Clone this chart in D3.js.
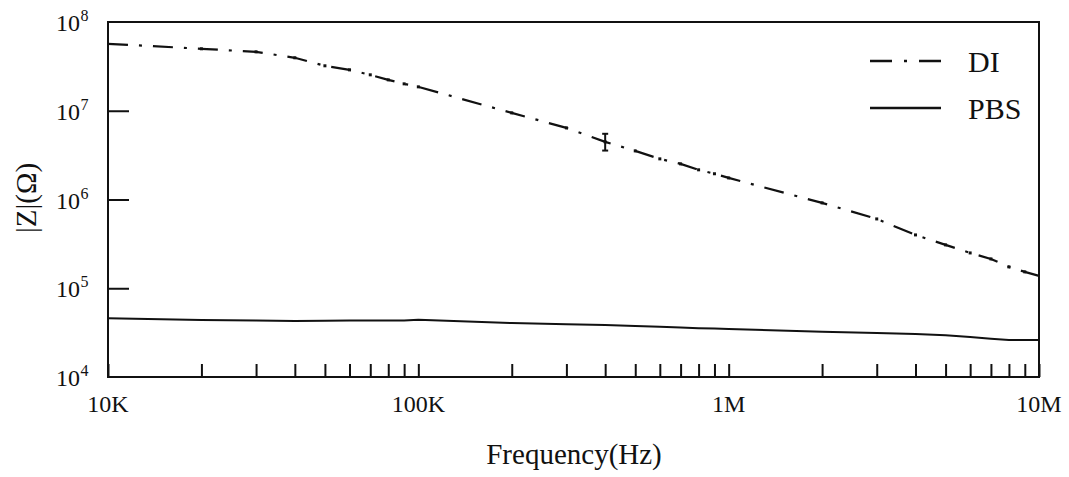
<!DOCTYPE html>
<html>
<head>
<meta charset="utf-8">
<script src="https://cdn.jsdelivr.net/npm/d3@7"></script>
<style>
  html, body { margin: 0; padding: 0; background: #fff; }
  svg text { font-family: "Liberation Serif", "Times New Roman", serif; fill: #111; }
</style>
</head>
<body>
<svg id="chart" width="1069" height="477"></svg>
<script>
// frequencies (Hz): 1..9 x each decade, 10K to 10M
const freqs = [
  1e4, 2e4, 3e4, 4e4, 5e4, 6e4, 7e4, 8e4, 9e4,
  1e5, 2e5, 3e5, 4e5, 5e5, 6e5, 7e5, 8e5, 9e5,
  1e6, 2e6, 3e6, 4e6, 5e6, 6e6, 7e6, 8e6, 9e6,
  1e7
];

// |Z| in ohm
const diValues = [
  5.68e7, 4.99e7, 4.61e7, 3.95e7, 3.21e7, 2.89e7, 2.54e7, 2.23e7, 2.01e7,
  1.86e7, 9.46e6, 6.41e6, 4.46e6, 3.53e6, 2.87e6, 2.52e6, 2.16e6, 1.95e6,
  1.75e6, 9.16e5, 6.04e5, 3.99e5, 3.08e5, 2.50e5, 2.14e5, 1.74e5, 1.53e5,
  1.38e5
];
const pbsValues = [
  4.59e4, 4.40e4, 4.32e4, 4.28e4, 4.30e4, 4.34e4, 4.32e4, 4.32e4, 4.32e4,
  4.43e4, 4.05e4, 3.93e4, 3.85e4, 3.76e4, 3.69e4, 3.61e4, 3.55e4, 3.51e4,
  3.47e4, 3.24e4, 3.14e4, 3.05e4, 2.95e4, 2.82e4, 2.70e4, 2.62e4, 2.61e4,
  2.61e4
];

// the one visible error bar on DI
const diErrors = [{ f: 4e5, low: 3.56e6, high: 5.5e6 }];

const xTickLabels = [{ v: 1e4, t: "10K" }, { v: 1e5, t: "100K" }, { v: 1e6, t: "1M" }, { v: 1e7, t: "10M" }];
const yTickExps = [4, 5, 6, 7, 8];

const svg = d3.select("#chart");
const plotLeft = 108, plotRight = 1039, plotTop = 22, plotBottom = 377;

const x = d3.scaleLog().domain([1e4, 1e7]).range([plotLeft, plotRight]);
const y = d3.scaleLog().domain([1e4, 1e8]).range([plotBottom, plotTop]);

// x axis: every 1..9 tick, inward
const xTicks = [];
for (let e = 4; e <= 6; e++) for (let m = 1; m <= 9; m++) xTicks.push(m * Math.pow(10, e));
xTicks.push(1e7);

svg.append("g")
  .attr("transform", `translate(0,${plotBottom})`)
  .call(d3.axisBottom(x).tickValues(xTicks).tickSizeInner(-13).tickSizeOuter(0).tickFormat(""))
  .call(g => g.select(".domain").remove())
  .call(g => g.selectAll(".tick line").attr("stroke", "#111").attr("stroke-width", 2));

svg.append("g")
  .attr("transform", `translate(${plotLeft},0)`)
  .call(d3.axisLeft(y).tickValues([1e5, 1e6, 1e7]).tickSizeInner(-21).tickSizeOuter(0).tickFormat(""))
  .call(g => g.select(".domain").remove())
  .call(g => g.selectAll(".tick line").attr("stroke", "#111").attr("stroke-width", 2));

// frame
svg.append("rect")
  .attr("x", plotLeft).attr("y", plotTop)
  .attr("width", plotRight - plotLeft).attr("height", plotBottom - plotTop)
  .attr("fill", "none").attr("stroke", "#111").attr("stroke-width", 2);

// x tick labels
svg.selectAll(".xlab").data(xTickLabels).join("text")
  .attr("class", "xlab")
  .attr("x", d => x(d.v))
  .attr("y", 412)
  .attr("text-anchor", "middle")
  .attr("font-size", 24)
  .text(d => d.t);

// y tick labels 10^n
const ylab = svg.selectAll(".ylab").data(yTickExps).join("g").attr("class", "ylab")
  .attr("transform", d => `translate(0,${y(Math.pow(10, d))})`);
ylab.append("text")
  .attr("x", 80).attr("y", 9)
  .attr("text-anchor", "end")
  .attr("font-size", 24)
  .text("10");
ylab.append("text")
  .attr("x", 80.5).attr("y", -1)
  .attr("font-size", 16)
  .text(d => d);

// axis titles
svg.append("text")
  .attr("transform", "translate(36,198) rotate(-90)")
  .attr("text-anchor", "middle")
  .attr("font-size", 29)
  .text("|Z|(Ω)");

svg.append("text")
  .attr("x", 574).attr("y", 464)
  .attr("text-anchor", "middle")
  .attr("font-size", 29)
  .text("Frequency(Hz)");

// curves
const line = d3.line().x(d => x(d[0])).y(d => y(d[1]));
const diData = freqs.map((f, i) => [f, diValues[i]]);
const pbsData = freqs.map((f, i) => [f, pbsValues[i]]);

svg.append("path")
  .datum(pbsData)
  .attr("d", line)
  .attr("fill", "none").attr("stroke", "#111").attr("stroke-width", 2);

svg.append("path")
  .datum(diData)
  .attr("d", line)
  .attr("fill", "none").attr("stroke", "#111").attr("stroke-width", 2.2)
  .attr("stroke-dasharray", "20,11,3,11");

// small point markers on DI
svg.selectAll(".dimark").data(diData.slice(1, -1)).join("rect")
  .attr("class", "dimark")
  .attr("x", d => x(d[0]) - 1.5).attr("y", d => y(d[1]) - 1.5)
  .attr("width", 3).attr("height", 3)
  .attr("fill", "#111");

// error bars
const eb = svg.selectAll(".err").data(diErrors).join("g").attr("class", "err")
  .attr("stroke", "#111").attr("stroke-width", 2);
eb.append("line")
  .attr("x1", d => x(d.f)).attr("x2", d => x(d.f))
  .attr("y1", d => y(d.high)).attr("y2", d => y(d.low));
eb.append("line")
  .attr("x1", d => x(d.f) - 3).attr("x2", d => x(d.f) + 3)
  .attr("y1", d => y(d.high)).attr("y2", d => y(d.high));
eb.append("line")
  .attr("x1", d => x(d.f) - 3).attr("x2", d => x(d.f) + 3)
  .attr("y1", d => y(d.low)).attr("y2", d => y(d.low));

// legend
const legendItems = [
  { name: "DI", dash: "22,12,3,12", y: 61 },
  { name: "PBS", dash: null, y: 108 }
];
const lg = svg.selectAll(".legend").data(legendItems).join("g").attr("class", "legend");
lg.append("line")
  .attr("x1", 870).attr("x2", 941)
  .attr("y1", d => d.y).attr("y2", d => d.y)
  .attr("stroke", "#111").attr("stroke-width", 2.5)
  .attr("stroke-dasharray", d => d.dash);
lg.append("text")
  .attr("x", 968).attr("y", d => d.y + 11)
  .attr("font-size", 30)
  .text(d => d.name);
</script>
</body>
</html>
